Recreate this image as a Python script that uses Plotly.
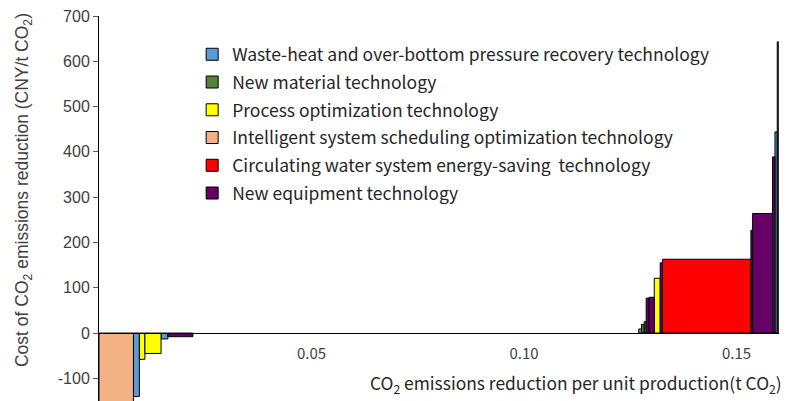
import plotly.graph_objects as go

# technologies (legend order) and colours
techs = [
    "Waste-heat and over-bottom pressure recovery technology",
    "New material technology",
    "Process optimization technology",
    "Intelligent system scheduling optimization technology",
    "Circulating water system energy-saving  technology",
    "New equipment technology",
]
colors = ["#5B9BD5", "#548235", "#FFFF00", "#F4B183", "#FF0000", "#660066"]

# MACC segments, left to right: technology index (None = no measure),
# abatement potential (t CO2) and cost (CNY/t CO2)
seg_tech = [3, 0, 2, 2, 0, 5, None, 0, 1, 1, 5, 5, 2, 5, 4, 5, 5, 5, 0, 1]
seg_width = [0.0081, 0.0014, 0.0013, 0.0038, 0.0016, 0.0059, 0.1049,
             0.00064, 0.00064, 0.00047, 0.0007, 0.0012, 0.0014, 0.00054,
             0.0208, 0.0004, 0.0047, 0.00056, 0.00054, 0.00024]
seg_cost = [-190, -140, -58, -45, -13, -8, 0,
            9, 19, 25, 77, 79, 121, 155,
            163, 227, 264, 389, 444, 643]

y_ticks = [-100, 0, 100, 200, 300, 400, 500, 600, 700]
x_ticks = [0.05, 0.10, 0.15]

# left edge of every segment
lefts = []
acc = 0.0
for w in seg_width:
    lefts.append(acc)
    acc += w

fig = go.Figure()
for i, name in enumerate(techs):
    xs, ws, ys = [], [], []
    for t, l, w, c in zip(seg_tech, lefts, seg_width, seg_cost):
        if t == i:
            xs.append(l + w / 2)
            ws.append(w)
            ys.append(c)
    fig.add_trace(go.Bar(
        x=xs, y=ys, width=ws, name=name,
        legendgroup=str(i),
        marker=dict(color=colors[i], line=dict(color="black", width=1)),
    ))

fig.update_layout(
    width=786, height=401,
    margin=dict(l=99, r=7, t=16, b=0, autoexpand=False),
    plot_bgcolor="white", paper_bgcolor="white",
    barmode="overlay",
    font=dict(family="Liberation Sans, Arial", color="#404040"),
    legend=dict(
        x=0.137, y=0.947, xanchor="left", yanchor="top",
        bgcolor="rgba(0,0,0,0)",
        font=dict(family="Noto Sans CJK SC, Noto Sans", size=17.5, color="#262626"),
        tracegroupgap=2,
    ),
)
fig.update_xaxes(
    range=[0, 0.16], anchor="free", position=150 / 850, automargin=False,
    showline=True, linecolor="black", linewidth=1,
    tickvals=x_ticks, ticktext=["%.2f" % v for v in x_ticks],
    ticks="outside", ticklen=7, tickcolor="rgba(0,0,0,0)",
    tickfont=dict(family="Noto Sans CJK SC, Noto Sans", size=15, color="#404040"),
    showgrid=False, zeroline=False,
)
fig.update_yaxes(
    range=[-150, 700], automargin=False,
    showline=True, linecolor="black", linewidth=1,
    tickvals=y_ticks, ticktext=[str(v) for v in y_ticks],
    ticks="outside", ticklen=5, tickcolor="#595959",
    tickfont=dict(size=16, color="#404040"),
    showgrid=False,
    zeroline=True, zerolinecolor="black", zerolinewidth=1,
)

# y axis title (placed by hand, slightly above the plot centre as in the source)
fig.add_annotation(
    text="Cost of CO<sub>2</sub> emissions reduction (CNY/t CO<sub>2</sub>)",
    xref="paper", yref="paper", x=0, y=0.548, xshift=-76,
    xanchor="center", yanchor="middle", textangle=-90, showarrow=False,
    font=dict(size=17.5, color="#404040"),
)
# x axis title
fig.add_annotation(
    text="CO<sub>2</sub> emissions reduction per unit production(t CO<sub>2</sub>)",
    xref="paper", yref="paper", x=1.008, y=0.045,
    xanchor="right", yanchor="middle", showarrow=False,
    font=dict(family="Noto Sans CJK SC, Noto Sans", size=17.4, color="#262626"),
)

fig.write_html("out.html", config={"displayModeBar": False},
               post_script="document.body.style.margin='0';")
